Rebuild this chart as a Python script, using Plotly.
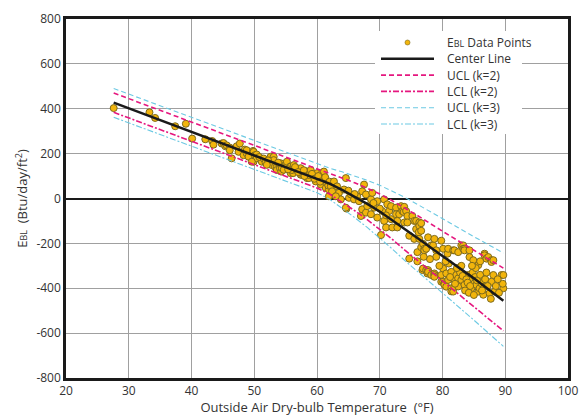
import plotly.graph_objects as go

# Daily building-load residuals vs outdoor temperature
temp_f = [
    27.6, 33.3, 34.2, 37.4, 39.1, 40.1, 42.2, 43.3, 43.5, 44.8, 45.1, 45.4, 45.6, 46.1, 46.1, 46.4, 47.2, 47.7, 47.5,
    48.3, 48.5, 48.8, 48.8, 49.1, 49.8, 49.9, 49.9, 50.1, 50.4, 50.4, 51.2, 49.6, 52.6, 52.8, 53.1, 53.1, 52.8, 53.3,
    53.6, 53.6, 54.1, 54.2, 54.3, 54.4, 54.96, 55.1, 55.2, 55.7, 55.8, 55.8, 56.2, 56.3, 56.0, 56.8, 56.8, 57.3, 57.4,
    57.4, 57.6, 57.6, 58.2, 58.4, 58.4, 58.7, 58.7, 59.0, 59.5, 59.8, 60.0, 60.3, 60.6, 60.8, 61.1, 61.1, 61.4, 61.6,
    61.9, 61.9, 50.8, 51.5, 51.8, 52.2, 52.0, 53.8, 54.7, 55.4, 56.5, 57.0, 57.9, 58.0, 59.2, 59.6, 60.2, 60.5, 61.3,
    61.8, 62.0,
    62.2, 62.4, 62.7, 63.2, 63.5, 63.8, 64.3, 64.6, 64.7, 65.1, 65.4, 65.9, 66.4, 66.7, 67.0, 67.2, 67.2, 67.5, 67.8,
    67.8, 68.0, 68.6, 68.6, 68.8, 69.1, 69.6, 69.6, 70.2, 70.4, 70.7, 70.7, 71.0, 71.2, 71.5, 71.8, 71.8, 72.0, 72.6,
    72.6, 72.8, 72.8, 73.1, 73.4, 73.6, 73.8, 73.9, 73.9, 74.2, 74.4, 74.4, 74.7, 74.7, 64.6, 66.0, 65.0, 63.0, 69.0,
    70.0, 71.0,
    75.2, 75.5, 75.5, 75.8, 75.8, 76.0, 76.2, 76.3, 76.3, 76.3, 76.6, 76.6, 76.6, 76.8, 76.9, 76.9, 77.1, 77.1, 77.4,
    77.4, 77.6, 77.7, 77.7, 77.7, 78.2, 78.2, 78.5, 78.7, 78.7, 78.7, 78.7, 79.0, 79.8, 79.8, 79.8, 80.1, 80.1, 80.1,
    80.3, 80.3, 80.6, 80.6, 80.8, 80.9, 80.9, 81.4, 81.4, 81.4, 81.7, 81.7, 81.9, 81.9, 81.9, 82.2, 82.5, 82.5, 82.5,
    82.7, 83.0, 83.0, 83.3, 83.3, 83.5, 83.5, 83.5, 84.1, 84.3, 84.3, 84.6, 84.6, 84.9, 85.1, 85.4, 85.7, 85.7, 85.7,
    85.9, 86.2, 86.5, 86.5, 86.7, 86.7, 86.7, 87.0, 87.3, 87.5, 87.7, 87.8, 87.8, 87.8, 88.1, 88.1, 88.3, 89.4, 89.7,
    89.7, 89.6,
    82.8, 83.2, 83.8, 84.0, 84.4, 84.8, 85.2, 85.5, 86.0, 86.3, 86.8, 87.2, 83.6, 84.2, 85.0, 82.0, 82.3, 83.0, 85.3,
    86.0, 87.0, 88.5, 88.8, 89.0, 84.7, 81.0, 81.2, 80.5, 79.5, 79.0, 78.0, 77.0, 76.0,
]
ebl = [
    403, 384, 359, 322, 333, 267, 264, 256, 240, 245, 247, 233, 237, 227, 215, 179, 233, 245, 208,
    193, 218, 201, 215, 186, 212, 164, 208, 193, 196, 179, 164, 164, 186, 171, 186, 171, 149, 142,
    142, 127, 135, 157, 120, 135, 149, 157, 164, 142, 142, 113, 113, 149, 127, 135, 127, 127, 135,
    106, 105, 113, 120, 120, 91, 91, 105, 127, 98, 76, 113, 91, 62, 113, 84, 120, 47, 69,
    40, 10, 185, 178, 160, 170, 150, 160, 128, 130, 140, 118, 126, 100, 110, 88, 100, 75, 95,
    58, 75,
    54, 32, 76, 54, 25, -4, 40, 91, -45, 3, 18, -4, 10, -12, -78, 32, -48, 62, 18,
    -63, -34, -4, -70, 25, -41, -12, -85, -163, -56, -4, -100, -129, -26, -56, -34, -92, -129, -41,
    -70, -100, -129, -70, -34, -56, -60, -37, -107, -56, -78, -107, -166, -268, -41, 20, 35, 10, -20,
    -45, -75,
    -78, -100, -180, -100, -136, -239, -151, -107, -122, -180, -110, -144, -217, -319, -202, -312, -224, -231, -224,
    -319, -334, -173, -319, -327, -209, -341, -209, -180, -334, -341, -349, -231, -188, -341, -371, -224, -312, -371,
    -378, -385, -334, -393, -246, -224, -363, -327, -400, -414, -231, -415, -231, -363, -393, -341, -239, -356, -392,
    -319, -209, -363, -209, -224, -224, -231, -385, -341, -231, -261, -356, -400, -275, -378, -385, -297, -356, -415,
    -400, -378, -422, -429, -246, -253, -393, -268, -261, -422, -447, -275, -283, -371, -275, -341, -415, -341, -341,
    -400, -380,
    -330, -345, -360, -375, -390, -330, -350, -365, -340, -410, -360, -390, -410, -420, -430, -380, -310, -300, -310,
    -280, -330, -390, -360, -420, -300, -290, -350, -280, -300, -260, -270, -260, -280,
]

# Fitted change-point model and its control limits
fit_x = [27.6, 35, 40, 45, 50, 55, 60, 62, 64, 66, 68, 70, 72, 74, 76, 80, 85, 89.7]
center = [427, 350, 298, 246, 194, 142, 90, 66, 38, 8, -24, -58, -96, -136, -176, -256, -356, -456]
ucl_k2 = [470, 393, 341, 289, 237, 185, 133, 112, 92, 70, 46, 20, -10, -42, -76, -146, -232, -310]
lcl_k2 = [384, 307, 255, 203, 151, 99, 47, 20, -16, -54, -94, -136, -182, -230, -276, -366, -480, -590]
ucl_k3 = [490, 414, 362, 310, 258, 206, 154, 135, 119, 101, 81, 59, 33, 5, -26, -91, -170, -243]
lcl_k3 = [362, 286, 234, 182, 130, 78, 26, -3, -43, -85, -129, -175, -225, -277, -326, -421, -542, -659]

x_ticks = [20, 30, 40, 50, 60, 70, 80, 90, 100]
y_ticks = [-800, -600, -400, -200, 0, 200, 400, 600, 800]
y_tick_text = ["-800", "-600", "-400", "-200", "0", "200", "400", "600", "800"]

FONT = "Open Sans"
SMALL = "<span style='font-size:9px'>BL</span>"
MAGENTA = "#e5177f"
CYAN = "#6cc9e3"
DOT_FILL = "#f2b50c"
DOT_EDGE = "#7d6a1c"
DASH = "5px,3px"
DASHDOT = "6px,2px,2px,2px"

# Figure geometry (pixels) used to place the hand-built legend
W, H = 579, 416
ML, MR, MT, MB = 66, 11, 19, 38
PW, PH = W - ML - MR, H - MT - MB


def px_x(p):
    return (p - ML) / PW


def px_y(p):
    return 1 - (p - MT) / PH


fig = go.Figure()

fig.add_trace(go.Scatter(
    x=temp_f, y=ebl, mode="markers", showlegend=False,
    marker=dict(size=7, color=DOT_FILL, line=dict(color=DOT_EDGE, width=1)),
))

limit_styles = [
    (ucl_k2, MAGENTA, DASH, 1.6),
    (lcl_k2, MAGENTA, DASHDOT, 1.6),
    (ucl_k3, CYAN, DASH, 1.1),
    (lcl_k3, CYAN, DASHDOT, 1.1),
]
for vals, color, dash, width in limit_styles:
    fig.add_trace(go.Scatter(
        x=fit_x, y=vals, mode="lines", showlegend=False,
        line=dict(color=color, dash=dash, width=width),
    ))

fig.add_trace(go.Scatter(
    x=fit_x, y=center, mode="lines", showlegend=False,
    line=dict(color="#1a1a1a", width=2.5),
))

# Legend: white panel, line samples and labels
legend_rows = [
    ("E" + SMALL + " Data Points", None, None, None),
    ("Center Line", "#1a1a1a", "solid", 2.5),
    ("UCL (k=2)", MAGENTA, DASH, 1.6),
    ("LCL (k=2)", MAGENTA, DASHDOT, 1.6),
    ("UCL (k=3)", CYAN, DASH, 1.1),
    ("LCL (k=3)", CYAN, DASHDOT, 1.1),
]
shapes = [dict(
    type="rect", xref="paper", yref="paper", layer="above",
    x0=px_x(375), x1=px_x(522), y0=px_y(31), y1=px_y(134),
    fillcolor="white", line=dict(width=0),
)]
annotations = []
for i, (label, color, dash, width) in enumerate(legend_rows):
    row_y = px_y(42.5 + 16.3 * i)
    if color is None:
        shapes.append(dict(
            type="circle", xref="paper", yref="paper", layer="above",
            x0=px_x(405), x1=px_x(410), y0=row_y - 2.5 / PH, y1=row_y + 2.5 / PH,
            fillcolor=DOT_FILL, line=dict(color=DOT_EDGE, width=0.6),
        ))
    else:
        shapes.append(dict(
            type="line", xref="paper", yref="paper", layer="above",
            x0=px_x(381), x1=px_x(434), y0=row_y, y1=row_y,
            line=dict(color=color, dash=dash, width=width),
        ))
    annotations.append(dict(
        text=label, xref="paper", yref="paper", x=px_x(445), y=row_y,
        xanchor="left", yanchor="middle", showarrow=False,
        font=dict(family=FONT, size=12, color="#333333"),
    ))

axis_common = dict(
    showline=True, mirror=True, linecolor="#1a1a1a", linewidth=2.5,
    showgrid=True, gridcolor="#a0a0a0", gridwidth=1, ticks="", automargin=False,
    tickfont=dict(family=FONT, size=12, color="#333333"),
)

fig.update_layout(
    width=W, height=H,
    margin=dict(l=ML, r=MR, t=MT, b=MB),
    paper_bgcolor="white", plot_bgcolor="white",
    font=dict(family=FONT, color="#333333"),
    showlegend=False,
    shapes=shapes,
    annotations=annotations,
    xaxis=dict(
        range=[20, 100], tickvals=x_ticks, zeroline=False,
        title=dict(text="Outside Air Dry-bulb Temperature  (°F)", font=dict(family=FONT, size=13), standoff=2),
        **axis_common,
    ),
    yaxis=dict(
        range=[-800, 800], tickvals=y_ticks, ticktext=y_tick_text,
        zeroline=True, zerolinecolor="#1a1a1a", zerolinewidth=2,
        title=dict(text="E" + SMALL + "  (Btu/day/ft<sup>2</sup>)", font=dict(family=FONT, size=13), standoff=6),
        **axis_common,
    ),
)

fig.write_html("out.html")
